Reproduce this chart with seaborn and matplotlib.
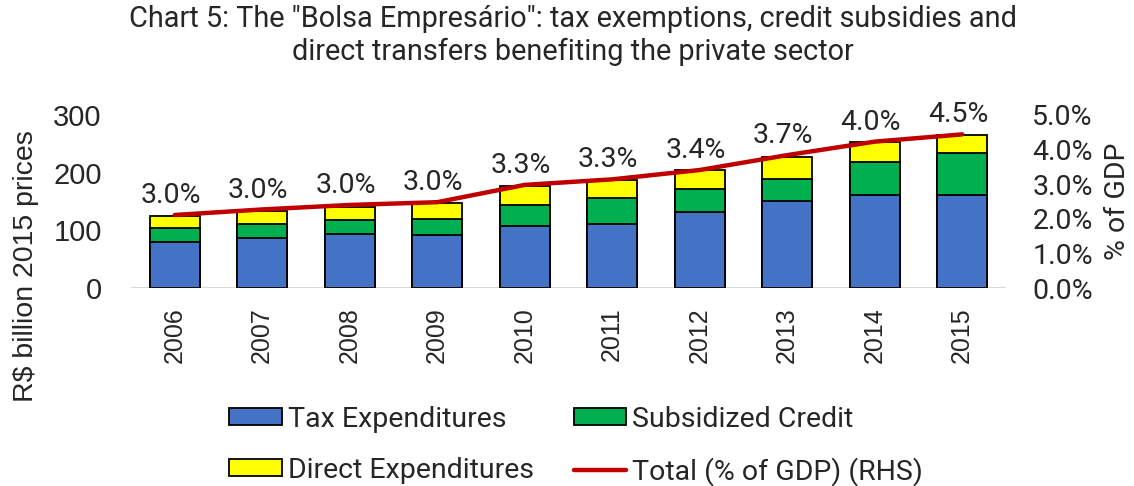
import numpy as np
import pandas as pd
import seaborn as sns
import matplotlib.pyplot as plt
from matplotlib.patches import Patch
from matplotlib.lines import Line2D

# values
years = ['2006', '2007', '2008', '2009', '2010', '2011', '2012', '2013', '2014', '2015']
tax_exp = [79, 86, 94, 92, 108, 111, 131, 151, 161, 161]
sub_credit = [25, 25, 24, 28, 36, 45, 40, 38, 58, 73]
direct_exp = [20, 22, 23, 28, 33, 32, 34, 39, 34, 32]
total_gdp = [2.11, 2.27, 2.40, 2.48, 2.98, 3.14, 3.41, 3.84, 4.23, 4.44]
gdp_labels = ['3.0%', '3.0%', '3.0%', '3.0%', '3.3%', '3.3%', '3.4%', '3.7%', '4.0%', '4.5%']

colors = {'Tax Expenditures': '#4472C4',
          'Subsidized Credit': '#00B050',
          'Direct Expenditures': '#FFFF00'}
line_color = '#C00000'

sns.set_style('white')
plt.rcParams['font.family'] = ['Roboto', 'DejaVu Sans']

df = pd.DataFrame({'year': years, 'tax': tax_exp, 'credit': sub_credit, 'direct': direct_exp})
df['s1'] = df['tax']
df['s2'] = df['tax'] + df['credit']
df['s3'] = df['s2'] + df['direct']

fig = plt.figure(figsize=(11.34, 4.86), dpi=100)
ax = fig.add_axes([0.1155, 0.4074, 0.7716, 0.356])

# stacked bars: draw cumulative heights, tallest first
for col, name in [('s3', 'Direct Expenditures'), ('s2', 'Subsidized Credit'), ('s1', 'Tax Expenditures')]:
    sns.barplot(data=df, x='year', y=col, color=colors[name], saturation=1,
                width=0.57, edgecolor='black', linewidth=1.3, ax=ax)

ax.set_ylim(0, 300)
ax.set_xlim(-0.5, len(years) - 0.5)
ax.set_yticks([0, 100, 200, 300])
for s in ax.spines.values():
    s.set_visible(False)
ax.axhline(0, color='#D9D9D9', linewidth=1.5, zorder=0.5)
ax.tick_params(axis='both', length=0)
ax.tick_params(axis='y', pad=21)
ax.tick_params(axis='x', pad=14)
for lab in ax.get_yticklabels():
    lab.set_fontfamily('Liberation Sans')
    lab.set_fontsize(21)
for lab in ax.get_xticklabels():
    lab.set_fontfamily('Liberation Sans')
    lab.set_fontsize(18)
    lab.set_rotation(90)
ax.set_xlabel('')
ax.set_ylabel('R$ billion 2015 prices', fontfamily='Liberation Sans', fontsize=20.5)
ax.yaxis.set_label_coords(-0.105, 0.127)

ax2 = ax.twinx()
x = np.arange(len(years))
sns.lineplot(x=x, y=total_gdp, color=line_color, linewidth=3.2, ax=ax2)
ax2.set_ylim(0, 5)
ax2.set_yticks(np.arange(0, 5.01, 1))
ax2.set_yticklabels([f'{v:.1f}%' for v in np.arange(0, 5.01, 1)], fontsize=20.5)
ax2.tick_params(axis='y', length=0, pad=19)
for s in ax2.spines.values():
    s.set_visible(False)
ax2.set_ylabel('% of GDP', fontsize=20.5, labelpad=8)

for xi, yv, txt in zip(x, total_gdp, gdp_labels):
    ax2.annotate(txt, (xi, yv), xytext=(-3, 14), textcoords='offset points',
                 ha='center', va='center', fontsize=20.5)

fig.suptitle('Chart 5: The "Bolsa Empresário": tax exemptions, credit subsidies and\n'
             'direct transfers benefiting the private sector',
             x=0.505, y=0.99, fontsize=20.8, linespacing=1.2)

# column-major order so rows read Tax / Subsidized, Direct / Total
handles = [Patch(facecolor=colors['Tax Expenditures'], edgecolor='black', linewidth=1.3),
           Patch(facecolor=colors['Direct Expenditures'], edgecolor='black', linewidth=1.3),
           Patch(facecolor=colors['Subsidized Credit'], edgecolor='black', linewidth=1.3),
           Line2D([0], [0], color=line_color, linewidth=3.2)]
labels = ['Tax Expenditures', 'Direct Expenditures', 'Subsidized Credit', 'Total (% of GDP) (RHS)']
fig.legend(handles, labels, loc='center', bbox_to_anchor=(0.508, 0.083), ncol=2,
           frameon=False, handlelength=1.85, handleheight=0.55,
           handletextpad=0.2, columnspacing=1.4, labelspacing=0.85,
           prop={'size': 20.5})

fig.savefig('out.png', dpi=100)
